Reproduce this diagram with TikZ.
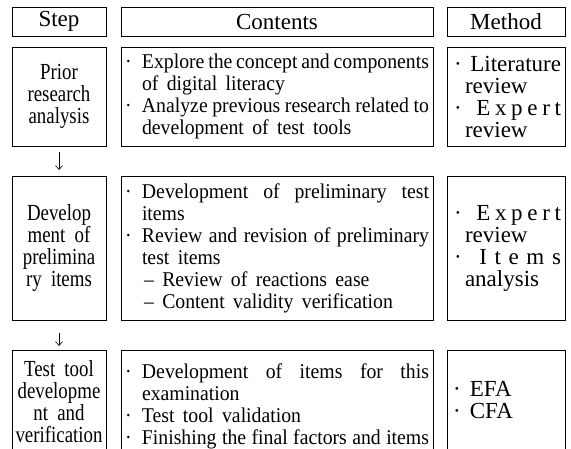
\documentclass[tikz,border=0pt]{standalone}
\usepackage{fontspec}
\setmainfont{Liberation Serif}
\newfontfamily\stepfont[FakeStretch=0.82]{Liberation Serif}
\newfontfamily\contfont[FakeStretch=0.94]{Liberation Serif}
\usetikzlibrary{arrows.meta}
\newcommand{\bul}[1]{\makebox[17pt][l]{·}#1}
\newcommand{\ind}{\hspace*{17pt}}
\newcommand{\jl}[1]{\makebox[287pt][s]{\spaceskip=0.3em plus 1fil minus 0.2em\relax #1}}
\newcommand{\mjl}[1]{\hspace*{3pt}\makebox[107pt][s]{#1}}
\newcommand{\mind}{\hspace*{14pt}}

\begin{document}
\begin{tikzpicture}[x=1pt,y=-1pt,font=\fontsize{23}{22}\selectfont,
  cell/.style={draw,line width=0.9pt,inner sep=0pt,outer sep=0pt,
    execute at begin node={\spaceskip=0.4em plus 0.1em minus 0.1em\relax}},
  head/.style={font=\fontsize{23}{22}\selectfont,align=flush center,minimum height=29pt},
  stepcol/.style={cell,minimum width=94pt,text width=92pt,align=flush center,
    font=\stepfont\fontsize{23}{22}\selectfont},
  contcol/.style={cell,minimum width=312pt,text width=304pt,align=flush left,
    font=\contfont\fontsize{21}{22}\selectfont},
  methcol/.style={cell,minimum width=118pt,text width=110pt,align=flush left},
  arr/.style={line width=0.6pt,-{Straight Barb[length=4pt,width=7pt]}}]
\useasboundingbox[fill=white] (0,0) rectangle (571,448);
\node[stepcol,head] (hstep) at (59,21.5) {Step};
\node[contcol,head] (hcont) at (277,21.5) {Contents};
\node[methcol,head] (hmeth) at (506,21.5) {Method};
\node[stepcol,minimum height=99pt] (s1) at (59,96.5) {Prior\\research\\analysis};
\node[contcol,minimum height=99pt] (c1) at (277,96.5) {\bul{\jl{Explore the concept and components}}\\
  \ind of digital literacy\\
  \bul{\jl{Analyze previous research related to}}\\
  \ind development of test tools};
\node[methcol,minimum height=99pt] (m1) at (506,96.5) {\mjl{·\hfil Literature}\\
  \mind review\\
  \mjl{·\hspace{10pt}\hfil E\hfil x\hfil p\hfil e\hfil r\hfil t}\\
  \mind review};
\node[stepcol,minimum height=144pt] (s2) at (59,248) {Develop\\ment of\\prelimina\\ry items};
\node[contcol,minimum height=144pt] (c2) at (277,248) {\bul{\jl{Development of preliminary test}}\\
  \ind items\\
  \bul{\jl{Review and revision of preliminary}}\\
  \ind test items\\
  \ind\hspace*{2pt}– Review of reactions ease\\
  \ind\hspace*{2pt}– Content validity verification};
\node[methcol,minimum height=144pt] (m2) at (506,248) {\mjl{·\hspace{10pt}\hfil E\hfil x\hfil p\hfil e\hfil r\hfil t}\\
  \mind review\\
  \mjl{·\hspace{10pt}\hfil I\hfil t\hfil e\hfil m\hfil s}\\
  \mind analysis};
\node[stepcol,minimum height=104pt] (s3) at (59,402) {Test tool\\developme\\nt and\\verification};
\node[contcol,minimum height=112pt] (c3) at (277,406) {\bul{\jl{Development of items for this}}\\
  \ind examination\\
  \bul{Test tool validation}\\
  \bul{\jl{Finishing the final factors and items}}};
\node[methcol,minimum height=100pt] (m3) at (506,400) {\hspace*{2pt}·\ EFA\\\hspace*{2pt}·\ CFA};
\draw[arr,shorten <=6pt,shorten >=6pt] (s1) -- (s2);
\draw[arr,shorten <=13pt,shorten >=4pt] (s2) -- (s3);
\end{tikzpicture}
\end{document}
